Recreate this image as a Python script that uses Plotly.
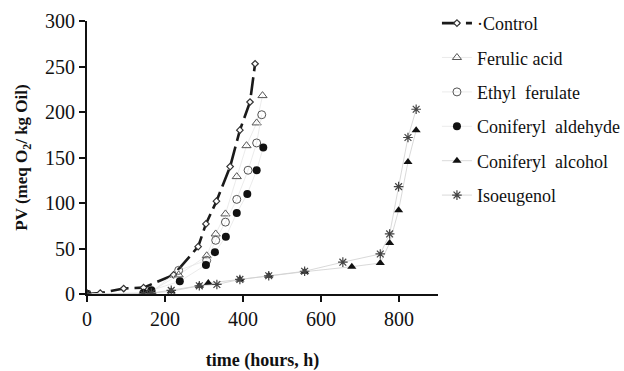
import plotly.graph_objects as go

# Data (hours, PV meq O2/kg oil)
control_t = [0, 34, 94, 145, 222, 285, 305, 332, 367, 392, 418, 431]
control_v = [0, 1, 6, 7, 21, 52, 77, 102, 140, 180, 211, 253]

ferulic_t = [0, 145, 165, 235, 307, 330, 355, 384, 409, 435, 450]
ferulic_v = [0, 1, 3, 21, 42, 66, 88, 129, 163, 188, 218]

ethyl_t = [0, 145, 165, 235, 307, 330, 355, 384, 413, 435, 448]
ethyl_v = [0, 1, 2, 26, 37, 59, 79, 104, 136, 166, 197]

aldehyde_t = [0, 145, 165, 238, 305, 328, 356, 384, 411, 435, 452]
aldehyde_v = [0, 1, 4, 14, 32, 46, 63, 89, 110, 136, 161]

alcohol_t = [0, 145, 165, 216, 288, 311, 392, 466, 558, 679, 752, 776, 799, 823, 844]
alcohol_v = [0, 0, 1, 3, 9, 12, 16, 20, 24.5, 30, 34, 56, 92, 145, 180]

iso_t = [0, 145, 165, 216, 288, 333, 392, 466, 558, 656, 752, 776, 799, 823, 844]
iso_v = [0, 0, 1, 4, 9, 10.5, 16, 20, 25, 35, 44, 66, 118, 172, 203]

x_ticks = [0, 200, 400, 600, 800]
y_ticks = [0, 50, 100, 150, 200, 250, 300]

SERIF = "'Liberation Serif', 'Times New Roman', Times, serif"

fig = go.Figure()

fig.add_trace(go.Scatter(
    x=control_t, y=control_v, name="\u00b7Control", mode="lines+markers",
    line=dict(color="#1a1a1a", width=2.6, dash="18px,6px"),
    marker=dict(symbol="diamond", size=5, color="white",
                line=dict(color="#333", width=1.2)),
    legendgroup="a"))

fig.add_trace(go.Scatter(
    x=ferulic_t, y=ferulic_v, name="Ferulic acid", mode="lines+markers",
    line=dict(color="#e6e6e6", width=0.8),
    marker=dict(symbol="triangle-up-open", size=8, color="#555",
                line=dict(width=1)),
    legendgroup="b"))

fig.add_trace(go.Scatter(
    x=ethyl_t, y=ethyl_v, name="Ethyl\u00a0 ferulate", mode="lines+markers",
    line=dict(color="#e6e6e6", width=0.8),
    marker=dict(symbol="circle-open", size=8, color="#555",
                line=dict(width=1)),
    legendgroup="c"))

fig.add_trace(go.Scatter(
    x=aldehyde_t, y=aldehyde_v, name="Coniferyl\u00a0 aldehyde", mode="lines+markers",
    line=dict(color="#e6e6e6", width=0.8),
    marker=dict(symbol="circle", size=8, color="#111"),
    legendgroup="d"))

fig.add_trace(go.Scatter(
    x=alcohol_t, y=alcohol_v, name="Coniferyl\u00a0 alcohol", mode="lines+markers",
    line=dict(color="#cfcfcf", width=0.8),
    marker=dict(symbol="triangle-up", size=8, color="#111"),
    legendgroup="e"))

fig.add_trace(go.Scatter(
    x=iso_t, y=iso_v, name="Isoeugenol", mode="lines+markers",
    line=dict(color="#cfcfcf", width=0.8),
    marker=dict(symbol="asterisk-open", size=8, color="#444",
                line=dict(color="#444", width=1.2)),
    legendgroup="f"))

fig.update_layout(
    width=624, height=371,
    margin=dict(l=87, r=186, t=21, b=77, autoexpand=False),
    paper_bgcolor="white", plot_bgcolor="white",
    font=dict(family=SERIF, size=18, color="#111"),
    showlegend=True,
    legend=dict(x=0.997, xanchor="left", y=1.059, yanchor="top",
                font=dict(family=SERIF, size=18, color="#111"),
                tracegroupgap=8, itemwidth=30, maxheight=370,
                bgcolor="rgba(0,0,0,0)"),
    xaxis=dict(range=[0, 900], tickvals=x_ticks, ticks="outside", ticklen=6,
               tickwidth=1.5, tickcolor="#111", showline=True, linecolor="#111",
               linewidth=2, showgrid=False, zeroline=False, automargin=False,
               tickfont=dict(family=SERIF, size=20),
               title=dict(text="<b>time (hours, h)</b>", font=dict(family=SERIF, size=18), standoff=28)),
    yaxis=dict(range=[0, 300], tickvals=y_ticks, ticks="outside", ticklen=6,
               tickwidth=1.5, tickcolor="#111", showline=True, linecolor="#111",
               linewidth=2, showgrid=False, zeroline=False, automargin=False,
               tickfont=dict(family=SERIF, size=20),
               title=dict(text="<b>PV (meq O<sub>2</sub>/ kg Oil)</b>", font=dict(family=SERIF, size=17), standoff=13)),
)

fig.write_html("out.html")
